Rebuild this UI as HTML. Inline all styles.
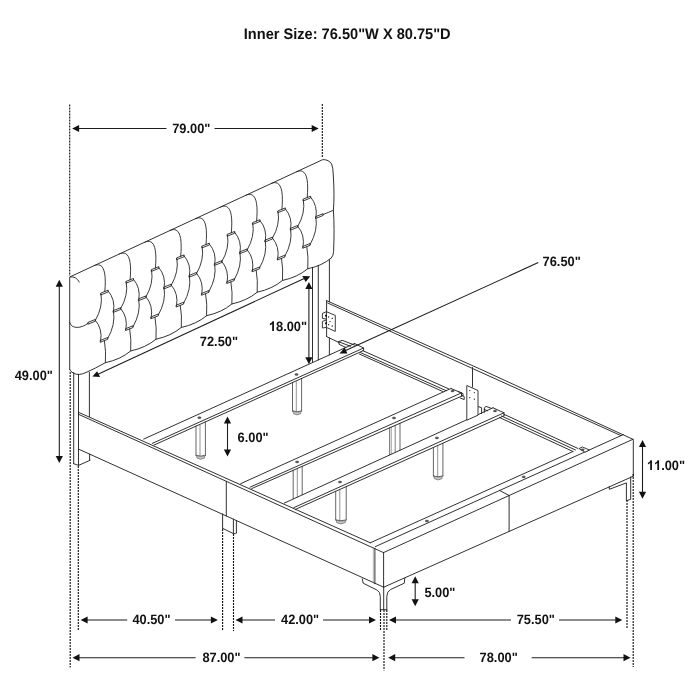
<!DOCTYPE html>
<html><head><meta charset="utf-8"><title>Bed dimensions</title>
<style>html,body{margin:0;padding:0;background:#fff;}body{width:700px;height:700px;overflow:hidden;font-family:"Liberation Sans",sans-serif;}svg{display:block;will-change:transform;transform:translateZ(0);}</style>
</head><body>
<svg width="700" height="700" viewBox="0 0 700 700">
<rect width="700" height="700" fill="#fff"/>
<g fill="none" stroke="#262626" stroke-width="0.95" stroke-linecap="round" stroke-linejoin="round">
<path d="M78.50 414.30L383.50 552.60"/>
<path d="M78.50 412.30L370.30 542.80"/>
<path d="M90.00 454.30L383.70 587.20"/>
<path d="M78.50 449.10L90.00 454.30"/>
<path d="M226.30 481.32L226.30 515.98"/>
<path d="M374.90 548.20L374.90 583.80"/>
<path d="M373.3 547.3L373.3 583.0" stroke-width="0.5" stroke="#666"/>
<path d="M383.60 552.60L383.60 587.20"/>
<path d="M383.50 552.60L632.90 439.30"/>
<path d="M383.70 587.20L633.30 476.20"/>
<path d="M370.30 542.80L573.00 451.50"/>
<path d="M375.40 546.60L623.30 434.60"/>
<path d="M632.9 439.3L633.3 440.2L633.3 476.2"/>
<path d="M509.10 495.54L509.10 531.43"/>
<path d="M499.70 490.44L509.10 495.54"/>
<path d="M326.5 300.6Q479.70 367.75 632.9 439.3"/>
<path d="M327.70 303.00L620.70 435.50"/>
<path d="M326.60 301.00L326.60 336.60"/>
<path d="M472.50 367.50L472.50 387.00"/>
<path d="M196.00 426.14L196.00 455.40M205.40 421.90L205.40 455.40" stroke="#4a4a4a" stroke-width="0.85"/>
<path d="M200.00 425.14L200.00 455.40" stroke-width="0.7" stroke="#666"/>
<path d="M196.00 455.40Q200.70 457.00 205.40 455.40" stroke="#4a4a4a" stroke-width="0.85"/>
<path d="M196.70 455.80L196.90 458.00Q200.70 460.60 204.50 458.00L204.70 455.80Q200.70 457.40 196.70 455.80Z" fill="#c8c8c8" stroke="#666" stroke-width="0.7"/>
<path d="M292.50 382.59L292.50 411.00M301.60 378.48L301.60 411.00" stroke="#4a4a4a" stroke-width="0.85"/>
<path d="M296.30 381.59L296.30 411.00" stroke-width="0.7" stroke="#666"/>
<path d="M292.50 411.00Q297.05 412.60 301.60 411.00" stroke="#4a4a4a" stroke-width="0.85"/>
<path d="M293.20 411.40L293.40 413.60Q297.05 416.20 300.70 413.60L300.90 411.40Q297.05 413.00 293.20 411.40Z" fill="#c8c8c8" stroke="#666" stroke-width="0.7"/>
<path d="M293.2 470.32L293.2 498.74" stroke="#4a4a4a" stroke-width="0.85"/>
<path d="M297.3 468.52L297.3 496.86" stroke="#666" stroke-width="0.7"/>
<path d="M302.2 466.36L302.2 494.63" stroke="#4a4a4a" stroke-width="0.85"/>
<path d="M389.7 427.82L389.7 454.67" stroke="#4a4a4a" stroke-width="0.85"/>
<path d="M391.4 427.07L391.4 453.89" stroke="#777" stroke-width="0.6"/>
<path d="M395.2 425.40L395.2 452.16" stroke="#555" stroke-width="0.75"/>
<path d="M400.0 423.29L400.0 449.97" stroke="#4a4a4a" stroke-width="0.85"/>
<path d="M335.70 491.32L335.70 520.00M346.20 486.61L346.20 520.00" stroke="#4a4a4a" stroke-width="0.85"/>
<path d="M339.80 490.32L339.80 520.00" stroke-width="0.7" stroke="#666"/>
<path d="M335.70 520.00Q340.95 521.60 346.20 520.00" stroke="#4a4a4a" stroke-width="0.85"/>
<path d="M336.40 520.40L336.60 522.60Q340.95 525.20 345.30 522.60L345.50 520.40Q340.95 522.00 336.40 520.40Z" fill="#c8c8c8" stroke="#666" stroke-width="0.7"/>
<path d="M433.40 447.48L433.40 476.00M442.90 443.22L442.90 476.00" stroke="#4a4a4a" stroke-width="0.85"/>
<path d="M437.70 446.48L437.70 476.00" stroke-width="0.7" stroke="#666"/>
<path d="M433.40 476.00Q438.15 477.60 442.90 476.00" stroke="#4a4a4a" stroke-width="0.85"/>
<path d="M434.10 476.40L434.30 478.60Q438.15 481.20 442.00 478.60L442.20 476.40Q438.15 478.00 434.10 476.40Z" fill="#c8c8c8" stroke="#666" stroke-width="0.7"/>
<path d="M143.70 439.10L354.60 343.50"/>
<path d="M152.30 443.40L363.60 348.00"/>
<path d="M154.00 445.10L363.60 350.50"/>
<path d="M354.60 343.50L363.60 348.00L363.60 350.50"/>
<path d="M240.60 483.70L451.00 388.50"/>
<path d="M250.00 487.20L461.50 392.90"/>
<path d="M251.70 488.60L461.50 396.20"/>
<path d="M451.00 388.50L461.50 392.90L461.50 396.20"/>
<path d="M284.30 503.10L493.00 407.80"/>
<path d="M293.70 507.70L504.00 412.80"/>
<path d="M295.40 509.40L504.00 415.80"/>
<path d="M493.00 407.80L504.00 412.80L504.00 415.80"/>
<path d="M326.60 336.60L339.10 342.60"/>
<path d="M338.70 341.70L342.10 340.30L355.00 345.20"/>
<path d="M338.70 341.70L339.10 344.30L346.00 347.50"/>
<path d="M338.70 341.70L350.50 346.30"/>
<path d="M362.90 350.70L448.60 388.80"/>
<path d="M360.50 352.60L446.00 390.60"/>
<path d="M359.30 354.00L443.00 391.60"/>
<path d="M504.00 414.30L578.00 448.50"/>
<path d="M501.50 416.00L575.50 450.00"/>
<path d="M499.50 417.50L573.00 451.50"/>
<path d="M73.70 372.50L73.70 463.70"/>
<path d="M78.50 374.30L78.50 465.40"/>
<path d="M89.40 372.30L89.40 416.60"/>
<path d="M89.60 454.30L89.60 460.30"/>
<path d="M73.70 463.70L78.50 465.40L90.00 460.30"/>
<path d="M222.60 513.90L222.60 528.30"/>
<path d="M233.40 519.20L233.40 533.40"/>
<path d="M236.40 520.70L236.40 532.80"/>
<path d="M222.6 528.3L233.4 533.6L235.6 533.6Q236.4 533.5 236.4 532.8"/>
<path d="M362.3 578.9L363.2 583.2L376.9 590.0Q380.3 591.8 380.3 596.5L380.3 609.7"/>
<path d="M404.8 578.2L404.3 583.2L390.6 589.5Q386.8 591.5 386.8 596.5L386.8 609.7"/>
<path d="M383.70 587.20L383.70 609.70"/>
<path d="M380.30 609.70L386.80 609.70"/>
<path d="M609.3 486.5L609.3 489.3L626.4 482.9L626.4 500.7L630.7 499.4L630.7 477.0"/>
<path d="M69.7 369.5L69.7 277.0L322.8 159.6Q328.9 159.5 331.6 164.0Q333.0 167.0 333.3 175Q334.6 196 333.4 210.2Q334.6 228 333.6 251.4Q333.4 255.8 331.4 257.9"/>
<path d="M331.40 257.90Q322.10 265.90 307.80 268.70Q297.65 277.18 282.50 280.45Q272.35 288.93 257.20 292.20Q247.05 300.68 231.90 303.95Q221.75 312.43 206.60 315.70Q196.45 324.18 181.30 327.45Q171.15 335.93 156.00 339.20Q145.85 347.68 130.70 350.95Q120.55 359.43 105.40 362.70Q95 368.5 86 372.5Q78.5 376 73.5 373.2Q70.2 371.5 69.7 369.5"/>
<path d="M312.50 267.30L312.50 362.58"/>
<path d="M318.30 265.60L318.30 359.95"/>
<path d="M329.40 259.60L329.40 301.60"/>
<path d="M329.40 337.90L329.40 354.92"/>
<path d="M468.20 387.00L468.20 419.40"/>
<path d="M478.0 406.5L481.6 407.7L481.6 413.6"/>
<path d="M484.3 409.4Q483.6 407.2 486.0 406.4L491.5 408.4M484.3 409.4L487.5 410.8M484.3 409.4L484.3 412.3"/>
<path d="M461.5 395.3L464.2 396.5L464.2 399.6L460.2 398.0M458.2 391.6L463.0 393.6L463.0 396.0"/>
</g>
<g fill="none" stroke="#262626" stroke-width="0.9" stroke-linecap="round" stroke-linejoin="round">
<path d="M70.5 276.9Q76.2 276.2 79.3 282.0"/>
<path d="M296.60 171.75C306.10 167.45 309.00 178.10 307.20 197.60"/>
<path d="M271.30 183.49C280.80 179.19 283.70 189.85 281.90 209.35"/>
<path d="M246.00 195.22C255.50 190.92 258.40 201.60 256.60 221.10"/>
<path d="M220.70 206.96C230.20 202.66 233.10 213.35 231.30 232.85"/>
<path d="M195.40 218.69C204.90 214.39 207.80 225.10 206.00 244.60"/>
<path d="M170.10 230.43C179.60 226.13 182.50 236.85 180.70 256.35"/>
<path d="M144.80 242.16C154.30 237.86 157.20 248.60 155.40 268.10"/>
<path d="M119.50 253.90C129.00 249.60 131.90 260.35 130.10 279.85"/>
<path d="M94.20 265.64C103.70 261.34 106.60 272.10 104.80 291.60"/>
<path d="M303.40 199.05L310.60 196.15L310.60 197.95L303.40 200.85Z"/>
<path d="M303.00 246.35L310.20 243.45L310.20 245.25L303.00 248.15Z"/>
<path d="M278.10 210.80L285.30 207.90L285.30 209.70L278.10 212.60Z"/>
<path d="M277.70 258.10L284.90 255.20L284.90 257.00L277.70 259.90Z"/>
<path d="M252.80 222.55L260.00 219.65L260.00 221.45L252.80 224.35Z"/>
<path d="M252.40 269.85L259.60 266.95L259.60 268.75L252.40 271.65Z"/>
<path d="M227.50 234.30L234.70 231.40L234.70 233.20L227.50 236.10Z"/>
<path d="M227.10 281.60L234.30 278.70L234.30 280.50L227.10 283.40Z"/>
<path d="M202.20 246.05L209.40 243.15L209.40 244.95L202.20 247.85Z"/>
<path d="M201.80 293.35L209.00 290.45L209.00 292.25L201.80 295.15Z"/>
<path d="M176.90 257.80L184.10 254.90L184.10 256.70L176.90 259.60Z"/>
<path d="M176.50 305.10L183.70 302.20L183.70 304.00L176.50 306.90Z"/>
<path d="M151.60 269.55L158.80 266.65L158.80 268.45L151.60 271.35Z"/>
<path d="M151.20 316.85L158.40 313.95L158.40 315.75L151.20 318.65Z"/>
<path d="M126.30 281.30L133.50 278.40L133.50 280.20L126.30 283.10Z"/>
<path d="M125.90 328.60L133.10 325.70L133.10 327.50L125.90 330.40Z"/>
<path d="M101.00 293.05L108.20 290.15L108.20 291.95L101.00 294.85Z"/>
<path d="M100.60 340.35L107.80 337.45L107.80 339.25L100.60 342.15Z"/>
<path d="M315.90 216.55L323.10 213.65L323.10 215.45L315.90 218.35Z"/>
<path d="M290.60 228.30L297.80 225.40L297.80 227.20L290.60 230.10Z"/>
<path d="M265.30 240.05L272.50 237.15L272.50 238.95L265.30 241.85Z"/>
<path d="M240.00 251.80L247.20 248.90L247.20 250.70L240.00 253.60Z"/>
<path d="M214.70 263.55L221.90 260.65L221.90 262.45L214.70 265.35Z"/>
<path d="M189.40 275.30L196.60 272.40L196.60 274.20L189.40 277.10Z"/>
<path d="M164.10 287.05L171.30 284.15L171.30 285.95L164.10 288.85Z"/>
<path d="M138.80 298.80L146.00 295.90L146.00 297.70L138.80 300.60Z"/>
<path d="M113.50 310.55L120.70 307.65L120.70 309.45L113.50 312.35Z"/>
<path d="M88.20 322.30L95.40 319.40L95.40 321.20L88.20 324.10Z"/>
<path d="M310.60 197.05Q318.00 205.65 315.90 217.45"/>
<path d="M303.40 199.95Q305.60 212.95 297.80 226.30"/>
<path d="M285.30 208.80Q292.70 217.40 290.60 229.20"/>
<path d="M278.10 211.70Q280.30 224.70 272.50 238.05"/>
<path d="M260.00 220.55Q267.40 229.15 265.30 240.95"/>
<path d="M252.80 223.45Q255.00 236.45 247.20 249.80"/>
<path d="M234.70 232.30Q242.10 240.90 240.00 252.70"/>
<path d="M227.50 235.20Q229.70 248.20 221.90 261.55"/>
<path d="M209.40 244.05Q216.80 252.65 214.70 264.45"/>
<path d="M202.20 246.95Q204.40 259.95 196.60 273.30"/>
<path d="M184.10 255.80Q191.50 264.40 189.40 276.20"/>
<path d="M176.90 258.70Q179.10 271.70 171.30 285.05"/>
<path d="M158.80 267.55Q166.20 276.15 164.10 287.95"/>
<path d="M151.60 270.45Q153.80 283.45 146.00 296.80"/>
<path d="M133.50 279.30Q140.90 287.90 138.80 299.70"/>
<path d="M126.30 282.20Q128.50 295.20 120.70 308.55"/>
<path d="M108.20 291.05Q115.60 299.65 113.50 311.45"/>
<path d="M101.00 293.95Q103.20 306.95 95.40 320.30"/>
<path d="M297.80 226.30Q305.20 234.90 303.00 247.25"/>
<path d="M272.50 238.05Q279.90 246.65 277.70 259.00"/>
<path d="M247.20 249.80Q254.60 258.40 252.40 270.75"/>
<path d="M221.90 261.55Q229.30 270.15 227.10 282.50"/>
<path d="M196.60 273.30Q204.00 281.90 201.80 294.25"/>
<path d="M171.30 285.05Q178.70 293.65 176.50 306.00"/>
<path d="M146.00 296.80Q153.40 305.40 151.20 317.75"/>
<path d="M120.70 308.55Q128.10 317.15 125.90 329.50"/>
<path d="M95.40 320.30Q102.80 328.90 100.60 341.25"/>
<path d="M315.90 217.45Q318.10 230.45 310.20 244.35"/>
<path d="M290.60 229.20Q292.80 242.20 284.90 256.10"/>
<path d="M265.30 240.95Q267.50 253.95 259.60 267.85"/>
<path d="M240.00 252.70Q242.20 265.70 234.30 279.60"/>
<path d="M214.70 264.45Q216.90 277.45 209.00 291.35"/>
<path d="M189.40 276.20Q191.60 289.20 183.70 303.10"/>
<path d="M164.10 287.95Q166.30 300.95 158.40 314.85"/>
<path d="M138.80 299.70Q141.00 312.70 133.10 326.60"/>
<path d="M113.50 311.45Q115.70 324.45 107.80 338.35"/>
<path d="M323.10 214.55Q328.00 212.50 333.40 210.30"/>
<path d="M88.20 323.20C81.50 328.60 71.50 329.50 69.70 322.50"/>
<path d="M306.80 246.70Q308.60 256.80 307.80 268.70"/>
<path d="M281.50 258.45Q283.30 268.55 282.50 280.45"/>
<path d="M256.20 270.20Q258.00 280.30 257.20 292.20"/>
<path d="M230.90 281.95Q232.70 292.05 231.90 303.95"/>
<path d="M205.60 293.70Q207.40 303.80 206.60 315.70"/>
<path d="M180.30 305.45Q182.10 315.55 181.30 327.45"/>
<path d="M155.00 317.20Q156.80 327.30 156.00 339.20"/>
<path d="M129.70 328.95Q131.50 339.05 130.70 350.95"/>
<path d="M104.40 340.70Q106.20 350.80 105.40 362.70"/>
</g>
<g fill="#fff" stroke="#262626" stroke-width="0.9" stroke-linejoin="round">
<ellipse cx="199.4" cy="417.7" rx="1.7" ry="1.0" fill="#555" stroke="#333" stroke-width="0.4"/>
<ellipse cx="296.5" cy="374.5" rx="1.7" ry="1.0" fill="#555" stroke="#333" stroke-width="0.4"/>
<ellipse cx="297.1" cy="461.9" rx="1.7" ry="1.0" fill="#555" stroke="#333" stroke-width="0.4"/>
<ellipse cx="394.0" cy="418.0" rx="1.7" ry="1.0" fill="#555" stroke="#333" stroke-width="0.4"/>
<ellipse cx="452.6" cy="390.9" rx="1.7" ry="1.0" fill="#555" stroke="#333" stroke-width="0.4"/>
<ellipse cx="340.0" cy="482.0" rx="1.7" ry="1.0" fill="#555" stroke="#333" stroke-width="0.4"/>
<ellipse cx="436.9" cy="437.9" rx="1.7" ry="1.0" fill="#555" stroke="#333" stroke-width="0.4"/>
<ellipse cx="495.0" cy="410.9" rx="1.7" ry="1.0" fill="#555" stroke="#333" stroke-width="0.4"/>
<path d="M579.0 448.5L582.5 447.0L589.5 450.0L585.0 452.2Z"/>
<ellipse cx="582.6" cy="449.7" rx="1.7" ry="1.0" fill="#555" stroke="#333" stroke-width="0.4"/>
<ellipse cx="426.9" cy="521.0" rx="1.7" ry="1.0" fill="#555" stroke="#333" stroke-width="0.4"/>
<ellipse cx="523.7" cy="476.9" rx="1.7" ry="1.0" fill="#555" stroke="#333" stroke-width="0.4"/>
<path d="M326.6 311.6L322.4 313.4L322.4 318.4L326.6 319.1Z"/>
<path d="M326.6 319.9L322.4 321.4L322.4 328.0L326.6 327.4Z"/>
<path d="M326.4 311.7L335.3 315.4L335.3 331.4L326.4 327.4Z"/>
<path d="M466.8 385.5L478.0 390.5L478.0 415.2L466.8 420.2Z"/>
</g>
<g fill="none" stroke="#111" stroke-width="1.12" stroke-dasharray="2 1">
<path d="M69.70 104.50L69.70 276.00"/>
<path d="M70.20 372.00L70.20 667.50"/>
<path d="M322.30 104.00L322.30 158.00"/>
<path d="M78.30 466.00L78.30 631.00"/>
<path d="M222.60 529.00L222.60 631.00"/>
<path d="M233.50 534.00L233.50 631.00"/>
<path d="M380.50 610.00L380.50 631.00"/>
<path d="M386.80 610.00L386.80 631.00"/>
<path d="M384.00 610.00L384.00 670.50"/>
<path d="M627.00 500.00L627.00 629.00"/>
<path d="M633.20 474.00L633.20 667.00"/>
</g>
<g fill="none" stroke="#1c1c1c" stroke-width="1.08">
<path d="M77.10 128.50L166.50 128.50"/>
<path d="M214.50 128.50L313.70 128.50"/>
<path d="M59.30 284.70L59.30 458.10"/>
<path d="M308.90 287.00L308.90 359.30"/>
<path d="M98.00 374.20L304.20 278.40"/>
<path d="M227.50 421.50L227.50 451.40"/>
<path d="M642.50 445.00L642.50 493.80"/>
<path d="M415.20 581.30L415.20 601.30"/>
<path d="M345.60 350.40L538.30 262.60"/>
<path d="M85.60 620.00L127.20 620.00"/>
<path d="M175.00 620.00L212.90 620.00"/>
<path d="M240.50 620.00L275.00 620.00"/>
<path d="M323.00 620.00L371.00 620.00"/>
<path d="M394.00 620.00L511.00 620.00"/>
<path d="M559.00 620.00L617.30 620.00"/>
<path d="M77.50 657.70L195.60 657.70"/>
<path d="M244.40 657.70L374.40 657.70"/>
<path d="M393.20 657.70L464.50 657.70"/>
<path d="M531.70 657.70L625.50 657.70"/>
</g>
<g fill="#111" stroke="none">
<path d="M72.10 128.50L79.10 124.90L79.10 132.10Z"/>
<path d="M318.70 128.50L311.70 132.10L311.70 124.90Z"/>
<path d="M59.30 279.70L62.90 286.70L55.70 286.70Z"/>
<path d="M59.30 463.10L55.70 456.10L62.90 456.10Z"/>
<path d="M308.90 282.00L312.50 289.00L305.30 289.00Z"/>
<path d="M308.90 364.30L305.30 357.30L312.50 357.30Z"/>
<path d="M92.4 376.5L100.1 376.9L97.1 371.2Z"/>
<path d="M302.3 276.0L310.2 276.3L305.7 282.0Z"/>
<path d="M227.50 416.50L231.10 423.50L223.90 423.50Z"/>
<path d="M227.50 456.40L223.90 449.40L231.10 449.40Z"/>
<path d="M642.50 440.00L646.10 447.00L638.90 447.00Z"/>
<path d="M642.50 498.80L638.90 491.80L646.10 491.80Z"/>
<path d="M415.20 576.30L418.80 583.30L411.60 583.30Z"/>
<path d="M415.20 606.30L411.60 599.30L418.80 599.30Z"/>
<path d="M339.5 353.4L347.4 353.4L344.7 347.5Z"/>
<path d="M80.60 620.00L87.60 616.40L87.60 623.60Z"/>
<path d="M217.90 620.00L210.90 623.60L210.90 616.40Z"/>
<path d="M235.50 620.00L242.50 616.40L242.50 623.60Z"/>
<path d="M376.00 620.00L369.00 623.60L369.00 616.40Z"/>
<path d="M389.00 620.00L396.00 616.40L396.00 623.60Z"/>
<path d="M622.30 620.00L615.30 623.60L615.30 616.40Z"/>
<path d="M72.50 657.70L79.50 654.10L79.50 661.30Z"/>
<path d="M379.40 657.70L372.40 661.30L372.40 654.10Z"/>
<path d="M388.20 657.70L395.20 654.10L395.20 661.30Z"/>
<path d="M630.50 657.70L623.50 661.30L623.50 654.10Z"/>
<circle cx="328.6" cy="317.0" r="0.65"/>
<circle cx="332.2" cy="318.4" r="0.65"/>
<circle cx="330.0" cy="321.6" r="0.65"/>
<circle cx="328.6" cy="324.7" r="0.65"/>
<circle cx="332.2" cy="326.0" r="0.65"/>
<circle cx="326.0" cy="315.7" r="1.05"/>
<circle cx="326.0" cy="323.3" r="1.05"/>
<circle cx="469.8" cy="390.6" r="0.6"/>
<circle cx="474.3" cy="392.6" r="0.6"/>
<circle cx="469.8" cy="397.6" r="0.6"/>
<circle cx="474.3" cy="399.2" r="0.6"/>
</g>
<g fill="#111" font-family="'Liberation Sans', sans-serif" font-weight="bold" text-rendering="geometricPrecision">
<text transform="translate(347.20 39.30) scale(0.957 1)" font-size="15.25" text-anchor="middle">Inner Size: 76.50&quot;W X 80.75&quot;D</text>
<text transform="translate(172.20 132.60) scale(0.947 1)" font-size="13.55" text-anchor="start">79.00&quot;</text>
<text transform="translate(542.60 266.10) scale(0.947 1)" font-size="13.55" text-anchor="start">76.50&quot;</text>
<path transform="translate(268.90 330.90) scale(0.006266 -0.006616)" d="M806 0H525V1059Q371 915 162 846V1101Q272 1137 401 1237.5Q530 1338 578 1472H806V0Z"/>
<text transform="translate(276.03 330.90) scale(0.947 1)" font-size="13.55" text-anchor="start">8.00&quot;</text>
<text transform="translate(199.80 346.30) scale(0.947 1)" font-size="13.55" text-anchor="start">72.50&quot;</text>
<text transform="translate(14.70 380.10) scale(0.947 1)" font-size="13.55" text-anchor="start">49.00&quot;</text>
<text transform="translate(237.60 442.10) scale(0.947 1)" font-size="13.55" text-anchor="start">6.00&quot;</text>
<path transform="translate(646.90 470.10) scale(0.006266 -0.006616)" d="M806 0H525V1059Q371 915 162 846V1101Q272 1137 401 1237.5Q530 1338 578 1472H806V0Z"/>
<path transform="translate(654.03 470.10) scale(0.006266 -0.006616)" d="M806 0H525V1059Q371 915 162 846V1101Q272 1137 401 1237.5Q530 1338 578 1472H806V0Z"/>
<text transform="translate(661.17 470.10) scale(0.947 1)" font-size="13.55" text-anchor="start">.00&quot;</text>
<text transform="translate(424.40 596.90) scale(0.947 1)" font-size="13.55" text-anchor="start">5.00&quot;</text>
<text transform="translate(132.40 624.10) scale(0.947 1)" font-size="13.55" text-anchor="start">40.50&quot;</text>
<text transform="translate(281.00 624.10) scale(0.947 1)" font-size="13.55" text-anchor="start">42.00&quot;</text>
<text transform="translate(516.70 624.10) scale(0.947 1)" font-size="13.55" text-anchor="start">75.50&quot;</text>
<text transform="translate(202.40 661.70) scale(0.947 1)" font-size="13.55" text-anchor="start">87.00&quot;</text>
<text transform="translate(479.60 661.70) scale(0.947 1)" font-size="13.55" text-anchor="start">78.00&quot;</text>
</g>
</svg>
</body></html>
